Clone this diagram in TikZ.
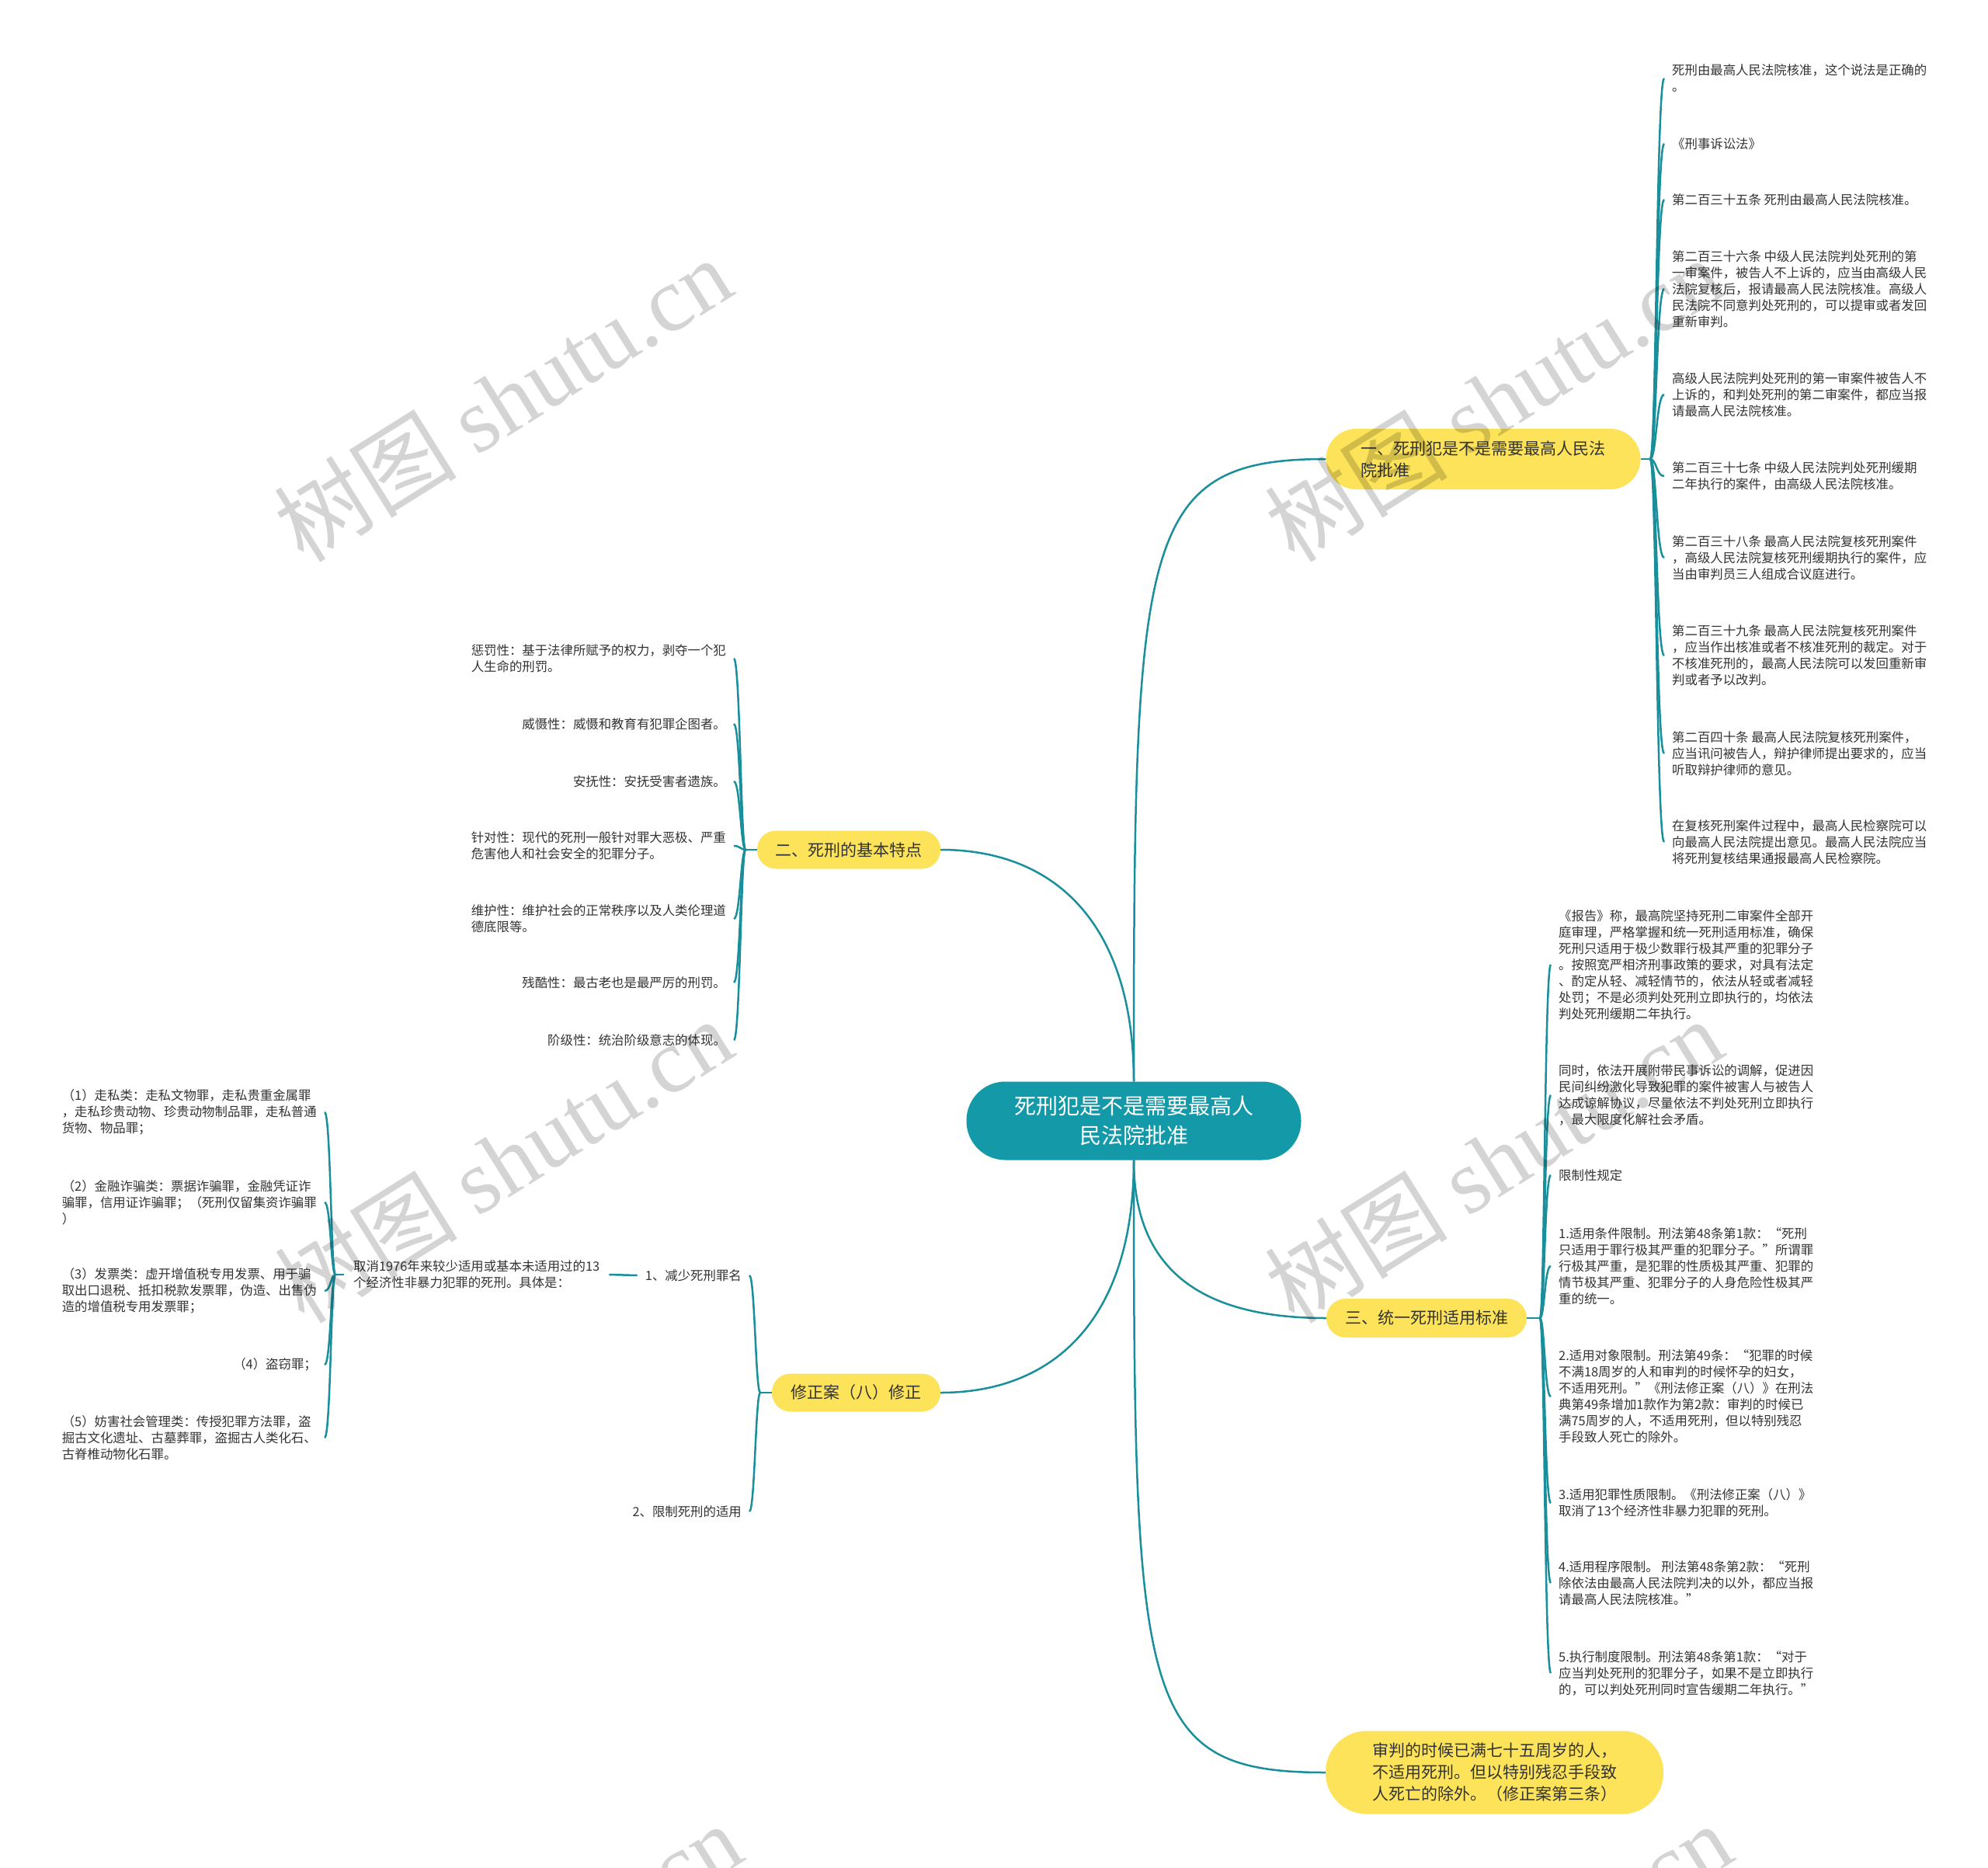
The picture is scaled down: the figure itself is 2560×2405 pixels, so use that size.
\documentclass[tikz,border=0pt]{standalone}
\usepackage{fontspec}
\setmainfont{Noto Sans CJK SC}
\newfontfamily\wmlatin{Liberation Serif}
\definecolor{cLine}{HTML}{1A8F9C}
\definecolor{cCenter}{HTML}{1399A8}
\definecolor{cYel}{HTML}{FCE35A}
\definecolor{cTxt}{HTML}{333333}
\newcommand{\leaffont}{\fontsize{16.4pt}{21pt}\selectfont}
\newcommand{\brfont}{\fontsize{21pt}{28pt}\selectfont}
\newcommand{\cenfont}{\fontsize{28pt}{38pt}\selectfont}
\newcommand{\wmsize}{\fontsize{118pt}{118pt}\selectfont}
\begin{document}
\begin{tikzpicture}[x=1pt,y=-1pt,
 conn/.style={draw=cLine, line width=2.5pt},
 leafR/.style={anchor=west, align=left, inner xsep=10pt, inner ysep=0pt, font=\leaffont, text=cTxt},
 leafL/.style={anchor=east, align=left, inner xsep=10pt, inner ysep=0pt, font=\leaffont, text=cTxt},
 branch/.style={fill=cYel, inner sep=0pt, font=\brfont, text=cTxt, align=left},
 wm/.style={rotate=32, font=\wmsize, text=black, opacity=0.17}
]
\fill[white] (0,0) rectangle (2560,2405);
\useasboundingbox (0,0) rectangle (2560,2405);
\clip (0,0) rectangle (2560,2405);

% centre
\node[fill=cCenter, rounded corners=50pt, minimum width=431pt, minimum height=101pt, inner sep=0pt, font=\cenfont, text=white, align=center] (C) at (1460,1443) {死刑犯是不是需要最高人\\民法院批准};

% branches
\node[branch, minimum width=405pt, minimum height=78pt, rounded corners=39pt] (B1) at (1910,591) {一、死刑犯是不是需要最高人民法\\院批准};
\node[branch, minimum width=236pt, minimum height=49pt, rounded corners=24pt] (B2) at (1093,1094) {二、死刑的基本特点};
\node[branch, minimum width=258pt, minimum height=50pt, rounded corners=25pt] (B3) at (1837,1697) {三、统一死刑适用标准};
\node[branch, minimum width=217pt, minimum height=49pt, rounded corners=24pt] (B4) at (1102.5,1793) {修正案（八）修正};
\node[branch, minimum width=435pt, minimum height=107pt, rounded corners=53pt] (B5) at (1924.5,2282) {审判的时候已满七十五周岁的人，\\不适用死刑。但以特别残忍手段致\\人死亡的除外。（修正案第三条）};

% branch 1 leaves
\node[leafR] (l1) at (2143,101) {死刑由最高人民法院核准，这个说法是正确的\\。};
\node[leafR] (l2) at (2143,185) {《刑事诉讼法》};
\node[leafR] (l3) at (2143,257) {第二百三十五条 死刑由最高人民法院核准。};
\node[leafR] (l4) at (2143,372) {第二百三十六条 中级人民法院判处死刑的第\\一审案件，被告人不上诉的，应当由高级人民\\法院复核后，报请最高人民法院核准。高级人\\民法院不同意判处死刑的，可以提审或者发回\\重新审判。};
\node[leafR] (l5) at (2143,508) {高级人民法院判处死刑的第一审案件被告人不\\上诉的，和判处死刑的第二审案件，都应当报\\请最高人民法院核准。};
\node[leafR] (l6) at (2143,613) {第二百三十七条 中级人民法院判处死刑缓期\\二年执行的案件，由高级人民法院核准。};
\node[leafR] (l7) at (2143,718) {第二百三十八条 最高人民法院复核死刑案件\\，高级人民法院复核死刑缓期执行的案件，应\\当由审判员三人组成合议庭进行。};
\node[leafR] (l8) at (2143,844) {第二百三十九条 最高人民法院复核死刑案件\\，应当作出核准或者不核准死刑的裁定。对于\\不核准死刑的，最高人民法院可以发回重新审\\判或者予以改判。};
\node[leafR] (l9) at (2143,970) {第二百四十条 最高人民法院复核死刑案件，\\应当讯问被告人，辩护律师提出要求的，应当\\听取辩护律师的意见。};
\node[leafR] (l10) at (2143,1084) {在复核死刑案件过程中，最高人民检察院可以\\向最高人民法院提出意见。最高人民法院应当\\将死刑复核结果通报最高人民检察院。};

% branch 3 leaves
\node[leafR] (m1) at (1997,1242) {《报告》称，最高院坚持死刑二审案件全部开\\庭审理，严格掌握和统一死刑适用标准，确保\\死刑只适用于极少数罪行极其严重的犯罪分子\\。按照宽严相济刑事政策的要求，对具有法定\\、酌定从轻、减轻情节的，依法从轻或者减轻\\处罚；不是必须判处死刑立即执行的，均依法\\判处死刑缓期二年执行。};
\node[leafR] (m2) at (1997,1410) {同时，依法开展附带民事诉讼的调解，促进因\\民间纠纷激化导致犯罪的案件被害人与被告人\\达成谅解协议，尽量依法不判处死刑立即执行\\，最大限度化解社会矛盾。};
\node[leafR] (m3) at (1997,1513) {限制性规定};
\node[leafR] (m4) at (1997,1630) {1.适用条件限制。刑法第48条第1款：“死刑\\只适用于罪行极其严重的犯罪分子。”所谓罪\\行极其严重，是犯罪的性质极其严重、犯罪的\\情节极其严重、犯罪分子的人身危险性极其严\\重的统一。};
\node[leafR] (m5) at (1997,1798) {2.适用对象限制。刑法第49条：“犯罪的时候\\不满18周岁的人和审判的时候怀孕的妇女，\\不适用死刑。”《刑法修正案（八）》在刑法\\典第49条增加1款作为第2款：审判的时候已\\满75周岁的人，不适用死刑，但以特别残忍\\手段致人死亡的除外。};
\node[leafR] (m6) at (1997,1935) {3.适用犯罪性质限制。《刑法修正案（八）》\\取消了13个经济性非暴力犯罪的死刑。};
\node[leafR] (m7) at (1997,2038) {4.适用程序限制。 刑法第48条第2款：“死刑\\除依法由最高人民法院判决的以外，都应当报\\请最高人民法院核准。”};
\node[leafR] (m8) at (1997,2154) {5.执行制度限制。刑法第48条第1款：“对于\\应当判处死刑的犯罪分子，如果不是立即执行\\的，可以判处死刑同时宣告缓期二年执行。”};

% branch 2 leaves
\node[leafL] (c1) at (945,848) {惩罚性：基于法律所赋予的权力，剥夺一个犯\\人生命的刑罚。};
\node[leafL] (c2) at (945,932) {威慑性：威慑和教育有犯罪企图者。};
\node[leafL] (c3) at (945,1006) {安抚性：安抚受害者遗族。};
\node[leafL] (c4) at (945,1089) {针对性：现代的死刑一般针对罪大恶极、严重\\危害他人和社会安全的犯罪分子。};
\node[leafL] (c5) at (945,1183) {维护性：维护社会的正常秩序以及人类伦理道\\德底限等。};
\node[leafL] (c6) at (945,1265) {残酷性：最古老也是最严厉的刑罚。};
\node[leafL] (c7) at (945,1339) {阶级性：统治阶级意志的体现。};

% branch 4 leaves
\node[leafL] (j1) at (965,1642) {1、减少死刑罪名};
\node[leafL] (j2) at (965,1946) {2、限制死刑的适用};
\node[leafR, inner xsep=12pt] (q) at (443,1641) {取消1976年来较少适用或基本未适用过的13\\个经济性非暴力犯罪的死刑。具体是：};
\node[leafL] (f1) at (418,1432) {（1）走私类：走私文物罪，走私贵重金属罪\\，走私珍贵动物、珍贵动物制品罪，走私普通\\货物、物品罪；};
\node[leafL] (f2) at (418,1548) {（2）金融诈骗类：票据诈骗罪，金融凭证诈\\骗罪，信用证诈骗罪；（死刑仅留集资诈骗罪\\）};
\node[leafL] (f3) at (418,1662) {（3）发票类：虚开增值税专用发票、用于骗\\取出口退税、抵扣税款发票罪，伪造、出售伪\\造的增值税专用发票罪；};
\node[leafL] (f4) at (418,1757) {（4）盗窃罪；};
\node[leafL] (f5) at (418,1851) {（5）妨害社会管理类：传授犯罪方法罪，盗\\掘古文化遗址、古墓葬罪，盗掘古人类化石、\\古脊椎动物化石罪。};

% junctions
\coordinate (J1) at (2125,591);
\coordinate (J2) at (960,1094);
\coordinate (J3) at (1983,1697);
\coordinate (J4) at (979,1793);
\coordinate (J6) at (432,1641);

% centre to branches
\draw[conn] (C.north) .. controls +(0,-700) and +(-240,0) .. (B1.west);
\draw[conn] (C.north) .. controls +(0,-200) and +(150,0) .. (B2.east);
\draw[conn] (C.south) .. controls +(0,150) and +(-150,0) .. (B3.west);
\draw[conn] (C.south) .. controls +(0,200) and +(150,0) .. (B4.east);
\draw[conn] (C.south) .. controls +(0,700) and +(-240,0) .. (B5.west);

% branch 1 bracket
\draw[conn] (B1.east) -- (J1);
\foreach \n in {l1,l2,l3,l4,l5,l6,l7,l8,l9,l10}
  \draw[conn] (J1) .. controls +(8,0) and +(-10,0) .. (\n.west);
% branch 3 bracket
\draw[conn] (B3.east) -- (J3);
\foreach \n in {m1,m2,m3,m4,m5,m6,m7,m8}
  \draw[conn] (J3) .. controls +(6,0) and +(-8,0) .. (\n.west);
% branch 2 bracket
\draw[conn] (B2.west) -- (J2);
\foreach \n in {c1,c2,c3,c4,c5,c6,c7}
  \draw[conn] (J2) .. controls +(-6,0) and +(8,0) .. (\n.east);
% branch 4 bracket
\draw[conn] (B4.west) -- (J4);
\foreach \n in {j1,j2}
  \draw[conn] (J4) .. controls +(-6,0) and +(7,0) .. (\n.east);
\draw[conn] (j1.west) -- (q.east);
\draw[conn] (q.west) -- (J6);
\foreach \n in {f1,f2,f3,f4,f5}
  \draw[conn] (J6) .. controls +(-6,0) and +(8,0) .. (\n.east);

% watermarks
\node[wm] (w1) at (647,514) {树图 {\wmlatin shutu.cn}};
\node[wm] (w2) at (648,1494) {树图 {\wmlatin shutu.cn}};
\node[wm] (w3) at (1923,514) {树图 {\wmlatin shutu.cn}};
\node[wm] (w4) at (1923,1494) {树图 {\wmlatin shutu.cn}};
\node[wm] (w5) at (660,2530) {树图 {\wmlatin shutu.cn}};
\node[wm] (w6) at (1935,2530) {树图 {\wmlatin shutu.cn}};
\end{tikzpicture}
\end{document}
